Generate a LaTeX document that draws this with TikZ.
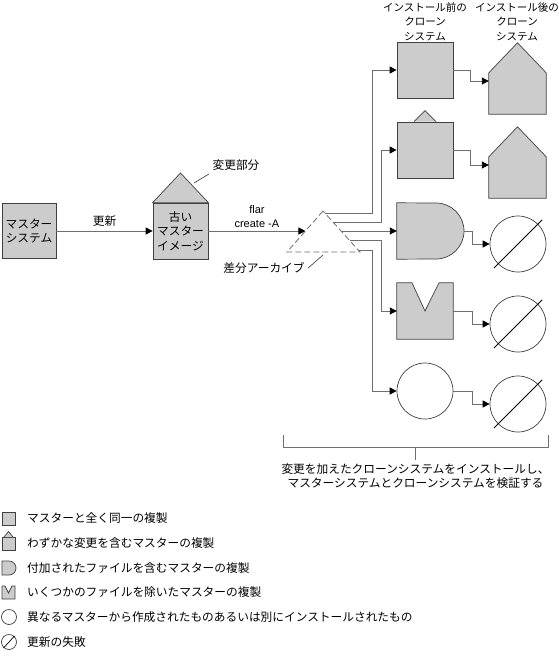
\documentclass[tikz,border=0pt]{standalone}
\usepackage{fontspec}
\setmainfont{Noto Sans CJK JP}
\newfontfamily\latinfont{Liberation Sans}
\usetikzlibrary{arrows.meta,calc}
\definecolor{shapegray}{HTML}{CCCCCC}
\definecolor{linegray}{HTML}{6E6E6E}
\begin{document}
\begin{tikzpicture}[x=1pt,y=-1pt,
  font=\fontsize{11.7}{14.5}\selectfont,
  grayshape/.style={draw=black!75, fill=shapegray, line width=0.7pt},
  box/.style={grayshape, rectangle, inner sep=0pt, minimum width=56pt, minimum height=56pt, align=center},
  blank/.style={inner sep=0pt, minimum width=56pt, minimum height=56pt},
  ring/.style={draw=black!75, circle, fill=white, line width=0.7pt, inner sep=0pt, minimum size=56pt},
  slash/.style={draw=black, line width=0.9pt},
  link/.style={draw=linegray, line width=0.9pt, -{Triangle[length=7pt,width=7pt,color=black]}},
  leader/.style={draw=black!80, line width=0.6pt},
  archive/.style={draw=linegray, line width=0.8pt, dash pattern=on 6pt off 3pt},
  bracket/.style={draw=linegray, line width=0.8pt},
  head/.style={align=center, font=\fontsize{10.5}{14.5}\selectfont},
  legend/.style={anchor=west, inner sep=0pt}]
\useasboundingbox (0,0) rectangle (559,658);
% master and old image
\node[box, minimum width=54pt, minimum height=55pt] (M) at (29,231) {マスター\\システム};
\node[box, minimum width=55pt] (O) at (180.5,231) {古い\\マスター\\イメージ};
\filldraw[grayshape] (O.north west) -- (180.5,173) -- (O.north east) -- cycle;
\node (diff) at (236,165) {変更部分};
\draw[leader] (diff.south west) -- (194,183);
% differential archive
\coordinate (T_top) at (323,211);
\coordinate (T_l) at (287,252);
\coordinate (T_r) at (360,252);
\draw[archive] (T_top) -- (T_l) -- (T_r) -- cycle;
\path (T_top) -- (T_l) coordinate[pos=0.4878] (T_in);
\path (T_top) -- (T_r) coordinate[pos=0.05] (a1) coordinate[pos=0.27] (a2)
  coordinate[pos=0.4878] (a3) coordinate[pos=0.73] (a4) coordinate[pos=0.95] (a5);
\node (arch) at (264,268) {差分アーカイブ};
\draw[leader] (arch.east) -- (323,255);
\draw[link] (M.east) -- (O.west) node[midway, above=1pt] {更新};
\draw[link] (O.east) -- (O.east -| T_in) node[midway, above, align=center, font=\latinfont\fontsize{11}{14}\selectfont] {flar\\create -A};
% clones before install
\node[head] (H_1) at (425,21.5) {インストール前の\\クローン\\システム};
\node[box] (B_1) at (425,70) {};
\node[box] (B_2) at (425,150) {};
\filldraw[grayshape] ([xshift=-11pt]B_2.north) -- ++(11,-11) -- ++(11,11);
\node[blank, minimum width=67pt] (B_3) at (430.5,231) {};
\filldraw[grayshape] (B_3.north west) -- (436,203) arc[start angle=90, end angle=-90, radius=28pt] -- (B_3.south west) -- cycle;
\node[blank] (B_4) at (425,311) {};
\filldraw[grayshape] (B_4.north west) -- ($(B_4.north)+(-13,0)$) -- (B_4.center) -- ($(B_4.north)+(14,0)$)
  -- (B_4.north east) -- (B_4.south east) -- (B_4.south west) -- cycle;
\node[ring] (B_5) at (425,391) {};
\draw[link] (a1) -| ([xshift=-24pt]B_1.west) -- (B_1.west);
\draw[link] (a2) -| ([xshift=-15pt]B_2.west) -- (B_2.west);
\draw[link] (a3) -- (a3 -| B_3.west);
\draw[link] (a4) -| ([xshift=-15pt]B_4.west) -- (B_4.west);
\draw[link] (a5) -| ([xshift=-24pt]B_5.west) -- (B_5.west);
% clones after install
\node[head] (H_2) at (517,21.5) {インストール後の\\クローン\\システム};
\node[blank, minimum width=57pt, minimum height=41pt] (A_1) at (517.5,93.5) {};
\filldraw[grayshape] (A_1.south west) -- (A_1.north west) -- ([yshift=30pt]A_1.north) -- (A_1.north east) -- (A_1.south east) -- cycle;
\node[blank, minimum width=57pt, minimum height=41pt] (A_2) at (517.5,177.5) {};
\filldraw[grayshape] (A_2.south west) -- (A_2.north west) -- ([yshift=30pt]A_2.north) -- (A_2.north east) -- (A_2.south east) -- cycle;
\node[ring] (A_3) at (518,244) {};
\draw[slash] ($(A_3)+(-24,24)$) -- ($(A_3)+(24,-24)$);
\node[ring] (A_4) at (518,324) {};
\draw[slash] ($(A_4)+(-24,24)$) -- ($(A_4)+(24,-24)$);
\node[ring] (A_5) at (518,404) {};
\draw[slash] ($(A_5)+(-24,24)$) -- ($(A_5)+(24,-24)$);
\draw[link] (B_1.east) -- ++(17,0) |- ([yshift=12.5pt]A_1.west);
\draw[link] (B_2.east) -- ++(17,0) |- ([yshift=12.5pt]A_2.west);
\draw[link] (B_3.east) -- ++(8,0) |- (A_3.west);
\draw[link] (B_4.east) -- ++(19,0) |- (A_4.west);
\draw[link] (B_5.east) -- ++(19,0) |- (A_5.west);
% bracket and note
\draw[bracket] (283,435) -- (283,447) -- (548,447) -- (548,435);
\coordinate (br_mid) at (415.5,447);
\node[align=center] (note) at (415.5,476) {変更を加えたクローンシステムをインストールし、\\マスターシステムとクローンシステムを検証する};
\draw[bracket] (br_mid) -- (br_mid |- note.north);
% legend
\filldraw[grayshape] (2,512) rectangle (15,525);
\filldraw[grayshape] (2,537) rectangle (15,550);
\filldraw[grayshape] (4,537) -- (8.5,531.5) -- (13,537);
\filldraw[grayshape] (2,561) -- (9,561) arc[start angle=90, end angle=-90, radius=7pt] -- (2,575) -- cycle;
\filldraw[grayshape] (2,586) -- (5,586) -- (8.5,593) -- (12,586) -- (15,586) -- (15,599) -- (2,599) -- cycle;
\draw[draw=black!75, line width=0.7pt] (9,617) circle[radius=7.5pt];
\draw[draw=black!75, line width=0.7pt] (9,642) circle[radius=7.5pt];
\draw[slash, line width=0.7pt] (3.5,648) -- (14.5,636);
\node[legend] (L_1) at (27,518.5) {マスターと全く同一の複製};
\node[legend] (L_2) at (27,543) {わずかな変更を含むマスターの複製};
\node[legend] (L_3) at (27,568) {付加されたファイルを含むマスターの複製};
\node[legend] (L_4) at (27,592.5) {いくつかのファイルを除いたマスターの複製};
\node[legend] (L_5) at (27,617) {異なるマスターから作成されたものあるいは別にインストールされたもの};
\node[legend] (L_6) at (27,642) {更新の失敗};
\end{tikzpicture}
\end{document}
